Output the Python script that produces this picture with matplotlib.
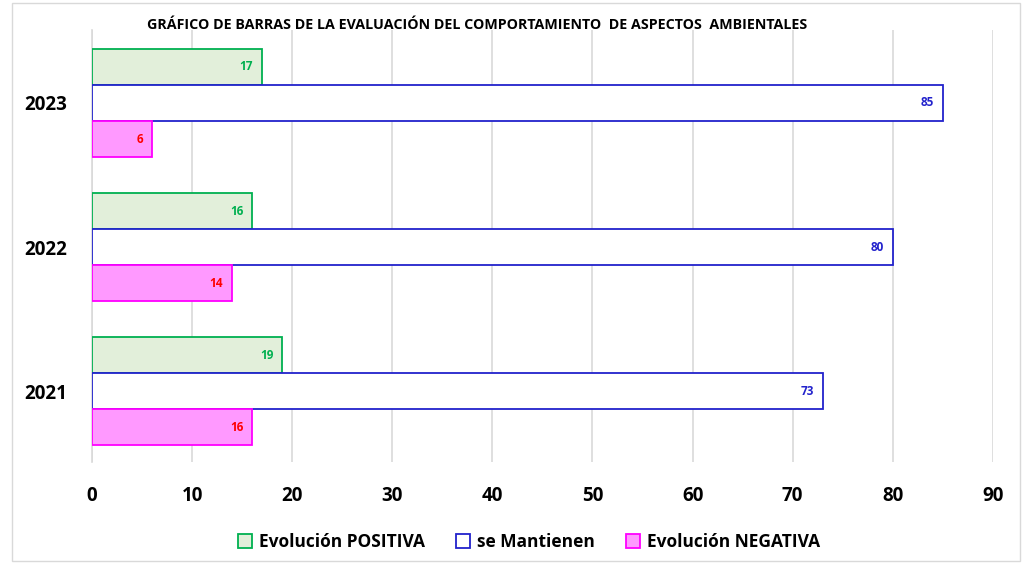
import numpy as np
import matplotlib.pyplot as plt
from matplotlib.patches import Rectangle

# Data
years = ['2021', '2022', '2023']
positiva = [19, 16, 17]
mantienen = [73, 80, 85]
negativa = [16, 14, 6]

series = ['Evolución POSITIVA', 'se Mantienen', 'Evolución NEGATIVA']
fills = ['#E2EFDA', '#FFFFFF', '#FF99FF']
edges = ['#00B050', '#2222CC', '#FF00FF']
label_colors = ['#00B050', '#2222CC', '#FF0000']

plt.rcParams['font.family'] = ['Open Sans', 'DejaVu Sans']

fig = plt.figure(figsize=(10.26, 5.65), dpi=100)
ax = fig.add_axes([0.0897, 0.182, 0.878, 0.765])

y = np.arange(len(years))
h = 0.25
offsets = [h, 0, -h]

for vals, off, fc, ec, lc, name in zip([positiva, mantienen, negativa], offsets,
                                       fills, edges, label_colors, series):
    bars = ax.barh(y + off, vals, height=h, color=fc, edgecolor=ec, linewidth=1.3,
                   label=name, zorder=3)
    for b, v in zip(bars, vals):
        ax.text(b.get_width() - 0.9, b.get_y() + b.get_height() / 2, str(v),
                ha='right', va='center', color=lc, fontsize=8.5, fontweight='bold',
                zorder=4)

ax.set_xlim(0, 90)
ax.set_ylim(-0.493, 2.507)
ax.set_xticks(range(0, 91, 10))
ax.set_yticks(y)
ax.set_yticklabels(years)
ax.tick_params(length=0, labelsize=13.5)
ax.tick_params(axis='x', pad=17)
ax.tick_params(axis='y', pad=18)
for t in ax.get_xticklabels() + ax.get_yticklabels():
    t.set_fontweight('bold')
ax.grid(axis='x', color='#D9D9D9', linewidth=1.2, zorder=0)
for s in ['top', 'right', 'bottom']:
    ax.spines[s].set_visible(False)
ax.spines['left'].set_color('#D9D9D9')
ax.spines['left'].set_linewidth(1.2)

fig.text(0.465, 0.955, 'GRÁFICO DE BARRAS DE LA EVALUACIÓN DEL COMPORTAMIENTO  DE ASPECTOS  AMBIENTALES',
         ha='center', va='center', fontsize=10.3, fontweight='bold')

leg = ax.legend(loc='center', bbox_to_anchor=(0.485, -0.185), ncol=3, frameon=False,
                prop={'size': 12.5, 'weight': 'bold'}, handlelength=0.8,
                handleheight=0.8, columnspacing=1.8, handletextpad=0.4)

fig.patches.append(Rectangle((0.012, 0.007), 0.982, 0.988, transform=fig.transFigure,
                             fill=False, edgecolor='#D9D9D9', linewidth=1))

fig.savefig('out.png', dpi=100)
